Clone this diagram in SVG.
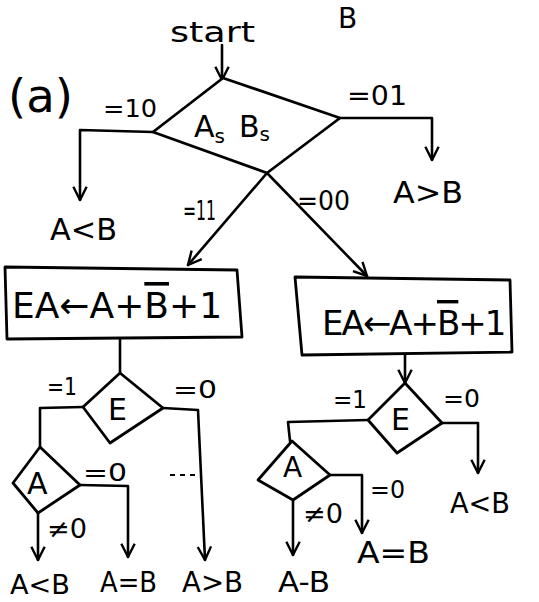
<svg xmlns="http://www.w3.org/2000/svg" width="539" height="602" viewBox="0 0 539 602">
<style>
.ln{fill:none;stroke:#000;stroke-width:2.6;stroke-linejoin:round;stroke-linecap:round}
.sh{fill:#fff;stroke:#000;stroke-width:2.8;stroke-linejoin:round}
.t{font-family:"DejaVu Sans","Liberation Sans",sans-serif;fill:#000}
.ov{text-decoration:overline}
</style>
<defs>
<marker id="ah" viewBox="0 0 12 12" refX="11" refY="6" markerWidth="16" markerHeight="16" markerUnits="userSpaceOnUse" orient="auto">
<path d="M1,1 L11,6 L1,11" fill="none" stroke="#000" stroke-width="1.8"/>
</marker>
</defs>
<rect width="539" height="602" fill="#fff"/>
<g id="connectors">
<line class="ln" x1="222" y1="45" x2="222" y2="80" marker-end="url(#ah)"/>
<polyline class="ln" points="153,132 80,130 80,200" marker-end="url(#ah)"/>
<polyline class="ln" points="340,118 432,118 432,160" marker-end="url(#ah)"/>
<line class="ln" x1="267" y1="173" x2="188" y2="265" marker-end="url(#ah)"/>
<line class="ln" x1="267" y1="173" x2="367" y2="276" marker-end="url(#ah)"/>
<line class="ln" x1="120" y1="338" x2="120" y2="373"/>
<polyline class="ln" points="83,407 40,408 40,447"/>
<polyline class="ln" points="163,408 198,410 205,560" marker-end="url(#ah)"/>
<polyline class="ln" points="80,485 128,486 128,557" marker-end="url(#ah)"/>
<line class="ln" x1="38" y1="513" x2="38" y2="560" marker-end="url(#ah)"/>
<line x1="170" y1="475" x2="197" y2="475" stroke="#000" stroke-width="1.8" stroke-dasharray="5,5"/>
<line class="ln" x1="405" y1="354" x2="405" y2="383" marker-end="url(#ah)"/>
<polyline class="ln" points="442,423 478,423 478,473" marker-end="url(#ah)"/>
<polyline class="ln" points="368,420 288,422 290,441"/>
<polyline class="ln" points="330,475 362,475 362,533" marker-end="url(#ah)"/>
<line class="ln" x1="293" y1="500" x2="293" y2="555" marker-end="url(#ah)"/>
</g>
<g id="start">
<text class="t" x="170" y="42" font-size="28" textLength="85" lengthAdjust="spacingAndGlyphs">start</text>
</g>
<g id="title-b">
<text class="t" x="338" y="28" font-size="28">B</text>
</g>
<g id="label-a">
<text class="t" x="8" y="112" font-size="46" textLength="65" lengthAdjust="spacingAndGlyphs">(a)</text>
</g>
<g id="d-sign">
<polygon class="sh" points="223,78 340,118 267,173 153,132"/>
<text class="t" x="194" y="137" font-size="30">A<tspan font-size="20" dy="6">s</tspan><tspan dy="-6" dx="14">B</tspan><tspan font-size="20" dy="4">s</tspan></text>
</g>
<g id="lbl-top">
<text class="t" x="103" y="117" font-size="24" textLength="54" lengthAdjust="spacingAndGlyphs">=10</text>
<text class="t" x="347" y="105" font-size="26" textLength="60" lengthAdjust="spacingAndGlyphs">=01</text>
<text class="t" x="183" y="220" font-size="26" textLength="33" lengthAdjust="spacingAndGlyphs">=11</text>
<text class="t" x="297" y="210" font-size="26" textLength="53" lengthAdjust="spacingAndGlyphs">=00</text>
</g>
<g id="out-lt">
<text class="t" x="50" y="240" font-size="30" textLength="67" lengthAdjust="spacingAndGlyphs">A&lt;B</text>
</g>
<g id="out-gt">
<text class="t" x="393" y="203" font-size="30" textLength="70" lengthAdjust="spacingAndGlyphs">A&gt;B</text>
</g>
<g id="box-left">
<polygon class="sh" points="5,267 237,270 242,337 7,339"/>
<text class="t" x="12" y="318" font-size="36">EA←A+<tspan class="ov">B</tspan>+1</text>
</g>
<g id="box-right">
<polygon class="sh" points="295,277 510,280 512,352 302,355"/>
<text class="t" x="322" y="335" font-size="34" letter-spacing="-2">EA←A+<tspan class="ov">B</tspan>+1</text>
</g>
<g id="d-e-left">
<polygon class="sh" points="120,373 163,408 110,443 83,407"/>
<text class="t" x="108" y="420" font-size="30">E</text>
<text class="t" x="47" y="395" font-size="24" textLength="30" lengthAdjust="spacingAndGlyphs">=1</text>
<text class="t" x="173" y="398" font-size="24" textLength="44" lengthAdjust="spacingAndGlyphs">=0</text>
</g>
<g id="d-a-left">
<polygon class="sh" points="40,447 80,485 38,513 13,483"/>
<text class="t" x="27" y="494" font-size="30">A</text>
<text class="t" x="83" y="481" font-size="24" textLength="44" lengthAdjust="spacingAndGlyphs">=0</text>
<text class="t" x="47" y="538" font-size="26" textLength="40" lengthAdjust="spacingAndGlyphs">≠0</text>
</g>
<g id="out-left-lt">
<text class="t" x="10" y="594" font-size="26" textLength="60" lengthAdjust="spacingAndGlyphs">A&lt;B</text>
</g>
<g id="out-left-eq">
<text class="t" x="100" y="592" font-size="28" textLength="57" lengthAdjust="spacingAndGlyphs">A=B</text>
</g>
<g id="out-left-gt">
<text class="t" x="182" y="592" font-size="28" textLength="61" lengthAdjust="spacingAndGlyphs">A&gt;B</text>
</g>
<g id="d-e-right">
<polygon class="sh" points="405,383 442,423 397,453 368,420"/>
<text class="t" x="391" y="430" font-size="30">E</text>
<text class="t" x="333" y="408" font-size="24" textLength="34" lengthAdjust="spacingAndGlyphs">=1</text>
<text class="t" x="443" y="407" font-size="24" textLength="37" lengthAdjust="spacingAndGlyphs">=0</text>
</g>
<g id="out-right-lt">
<text class="t" x="450" y="513" font-size="28" textLength="60" lengthAdjust="spacingAndGlyphs">A&lt;B</text>
</g>
<g id="d-a-right">
<polygon class="sh" points="292,441 330,475 293,500 258,480"/>
<text class="t" x="283" y="477" font-size="28">A</text>
<text class="t" x="370" y="498" font-size="24" textLength="35" lengthAdjust="spacingAndGlyphs">=0</text>
<text class="t" x="303" y="523" font-size="26" textLength="40" lengthAdjust="spacingAndGlyphs">≠0</text>
</g>
<g id="out-right-eq">
<text class="t" x="357" y="563" font-size="30" textLength="73" lengthAdjust="spacingAndGlyphs">A=B</text>
</g>
<g id="out-right-minus">
<text class="t" x="278" y="592" font-size="28" textLength="52" lengthAdjust="spacingAndGlyphs">A-B</text>
</g>
</svg>
